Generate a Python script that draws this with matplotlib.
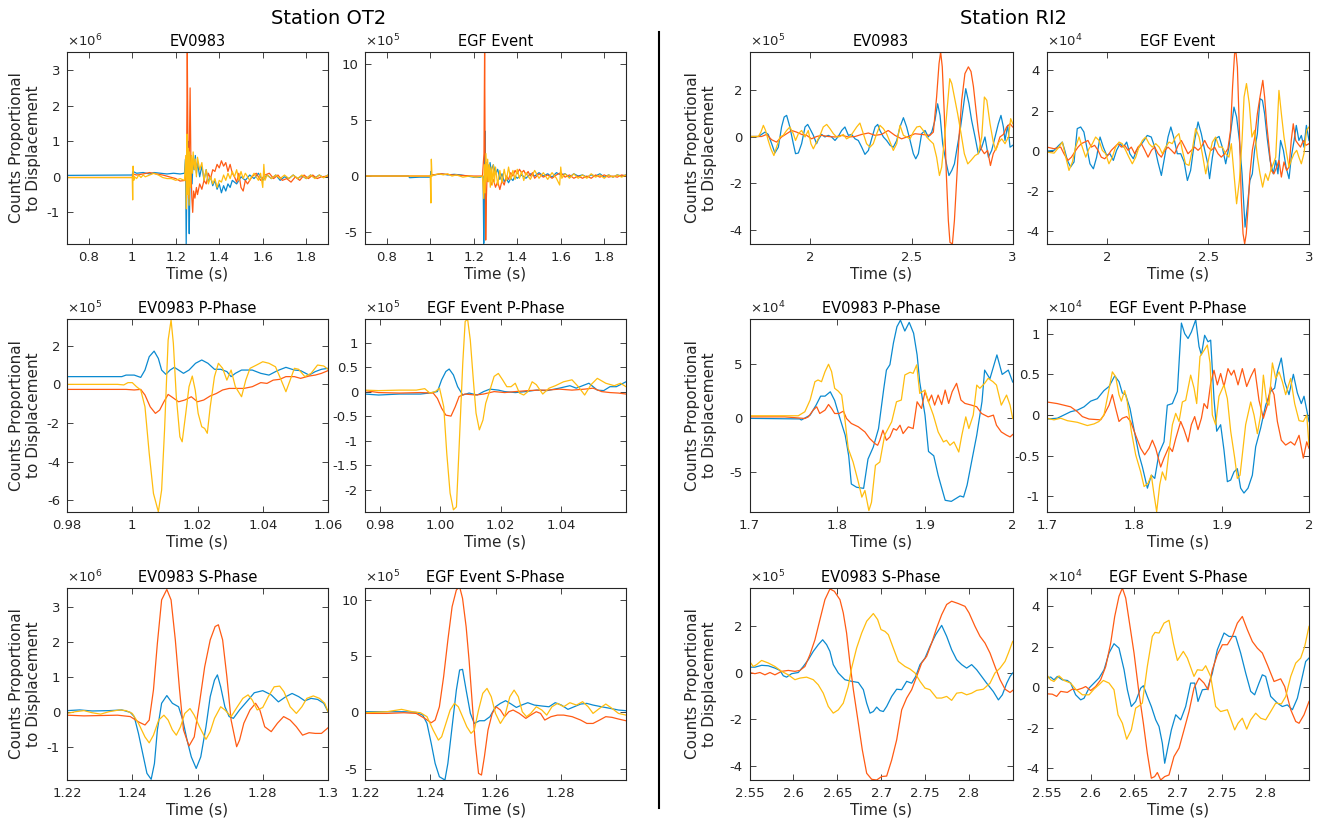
import matplotlib
matplotlib.use("Agg")
import matplotlib.pyplot as plt
from matplotlib.lines import Line2D

# ---------------------------------------------------------------- station OT2
# full records (x10^6 for EV0983, x10^5 for EGF)
ot2_ev_ch1_t = [0.70, 1.00, 1.003, 1.02, 1.05, 1.08, 1.10, 1.13, 1.16, 1.19, 1.22, 1.24, 1.245, 1.248, 1.252, 1.256,
                1.259, 1.262, 1.266, 1.27, 1.275, 1.28, 1.285, 1.29, 1.295, 1.30, 1.31, 1.32, 1.33, 1.34, 1.35, 1.36,
                1.37, 1.38, 1.39, 1.40, 1.41, 1.42, 1.43, 1.44, 1.45, 1.46, 1.48, 1.50, 1.52, 1.54, 1.56, 1.58, 1.60,
                1.62, 1.64, 1.66, 1.68, 1.70, 1.72, 1.74, 1.76, 1.78, 1.80, 1.82, 1.84, 1.86, 1.88, 1.90]
ot2_ev_ch1_v = [0.04, 0.05, 0.15, 0.10, 0.12, 0.08, 0.12, 0.10, 0.08, 0.10, 0.08, 0.10, 0.5, -1.9, 0.3, 1.0,
                -0.4, -1.6, 0.2, 0.6, -0.2, 0.5, 0.2, 0.6, 0.1, 0.4, 0.0, 0.3, -0.1, 0.2, -0.15, 0.0,
                -0.25, -0.1, -0.35, -0.2, -0.45, -0.25, -0.4, -0.2, -0.3, -0.1, -0.2, 0.0, -0.1, 0.05, -0.05, 0.1, -0.1,
                0.05, -0.05, 0.05, -0.1, 0.0, -0.05, 0.05, -0.05, 0.03, -0.05, 0.05, -0.03, 0.05, -0.02, 0.05]
ot2_ev_ch2_t = [0.70, 1.0, 1.003, 1.02, 1.05, 1.08, 1.11, 1.14, 1.17, 1.20, 1.22, 1.245, 1.250, 1.253, 1.256, 1.259,
                1.262, 1.266, 1.270, 1.274, 1.278, 1.282, 1.288, 1.295, 1.30, 1.31, 1.32, 1.33, 1.34, 1.35, 1.36, 1.37,
                1.38, 1.39, 1.40, 1.41, 1.42, 1.43, 1.44, 1.45, 1.46, 1.47, 1.48, 1.49, 1.50, 1.51, 1.52, 1.53, 1.55,
                1.57, 1.59, 1.61, 1.63, 1.65, 1.67, 1.69, 1.71, 1.73, 1.75, 1.77, 1.79, 1.81, 1.83, 1.85, 1.87, 1.90]
ot2_ev_ch2_v = [-0.02, -0.02, 0.08, 0.05, 0.08, 0.12, 0.08, 0.05, 0.0, -0.05, -0.12, -0.1, 0.5, 3.5, 1.0, -0.6,
                0.5, 2.5, 0.2, -0.6, -1.0, -0.4, -0.6, -0.3, -0.5, -0.2, -0.35, -0.1, -0.2, 0.1, -0.05, 0.2,
                0.15, 0.35, 0.25, 0.45, 0.3, 0.4, 0.15, 0.35, 0.1, 0.0, -0.15, 0.1, -0.3, -0.4, -0.1, -0.2, 0.0,
                0.1, -0.1, 0.05, 0.1, -0.05, 0.05, -0.1, -0.05, -0.15, 0.0, -0.1, 0.05, -0.05, 0.05, -0.05, 0.0, 0.02]
ot2_ev_ch3_t = [0.70, 1.0, 1.002, 1.004, 1.007, 1.01, 1.02, 1.03, 1.04, 1.05, 1.06, 1.08, 1.10, 1.12, 1.14, 1.16,
                1.18, 1.20, 1.22, 1.24, 1.246, 1.249, 1.252, 1.255, 1.258, 1.261, 1.264, 1.268, 1.272, 1.276, 1.28,
                1.285, 1.29, 1.295, 1.30, 1.31, 1.32, 1.33, 1.34, 1.35, 1.36, 1.37, 1.38, 1.39, 1.40, 1.41, 1.42,
                1.43, 1.44, 1.45, 1.46, 1.47, 1.48, 1.49, 1.50, 1.51, 1.52, 1.54, 1.56, 1.58, 1.59, 1.60, 1.605,
                1.61, 1.62, 1.64, 1.66, 1.68, 1.70, 1.72, 1.74, 1.76, 1.78, 1.80, 1.82, 1.84, 1.86, 1.88, 1.90]
ot2_ev_ch3_v = [-0.02, -0.02, -0.65, 0.3, -0.1, 0.0, -0.05, 0.05, -0.02, 0.05, 0.0, 0.05, 0.1, 0.05, -0.02, -0.05,
                -0.05, -0.1, -0.05, -0.1, 0.6, -0.9, 1.2, -0.5, 0.8, -0.8, 0.7, -0.3, 0.6, 0.1, 0.7,
                0.2, 0.5, 0.0, 0.55, 0.2, 0.4, -0.1, 0.2, -0.2, 0.0, -0.2, -0.05, -0.3, -0.1, -0.15, 0.05,
                -0.1, 0.1, -0.05, 0.15, 0.0, 0.2, -0.1, 0.15, -0.05, 0.1, -0.1, 0.1, -0.1, 0.1, -0.3, 0.35,
                -0.1, 0.05, -0.05, 0.05, -0.05, 0.05, -0.05, 0.05, -0.05, 0.05, -0.05, 0.05, -0.05, 0.05, -0.03, 0.05]

ot2_egf_ch1_t = [0.70, 0.90, 0.905, 0.95, 1.0, 1.003, 1.006, 1.02, 1.05, 1.08, 1.11, 1.14, 1.17, 1.20, 1.23, 1.243,
                 1.246, 1.249, 1.252, 1.255, 1.258, 1.262, 1.266, 1.27, 1.275, 1.28, 1.29, 1.30, 1.31, 1.32, 1.33,
                 1.34, 1.35, 1.36, 1.37, 1.38, 1.39, 1.40, 1.42, 1.44, 1.46, 1.48, 1.50, 1.52, 1.54, 1.56, 1.58,
                 1.60, 1.62, 1.64, 1.66, 1.68, 1.70, 1.72, 1.74, 1.76, 1.78, 1.80, 1.82, 1.84, 1.86, 1.88, 1.90]
ot2_egf_ch1_v = [0.0, 0.0, -0.15, -0.1, -0.1, 0.4, 0.1, 0.1, 0.2, 0.1, 0.15, 0.1, 0.0, -0.1, -0.1, 0.0,
                 -6.0, -2.0, 4.0, -0.5, 1.2, -0.2, 1.0, 0.3, 1.2, 0.5, 1.0, 0.2, 0.6, -0.3, 0.2,
                 -0.5, -0.2, -0.6, -0.2, -0.4, 0.0, -0.2, 0.1, -0.2, 0.2, 0.0, 0.3, 0.0, 0.2, -0.1, 0.3,
                 0.1, 0.2, -0.1, 0.2, 0.0, 0.1, -0.1, 0.1, 0.0, 0.2, -0.1, 0.1, -0.1, 0.1, 0.0, 0.1]
ot2_egf_ch2_t = [0.70, 1.0, 1.01, 1.05, 1.10, 1.15, 1.20, 1.24, 1.247, 1.250, 1.252, 1.255, 1.258, 1.262, 1.266,
                 1.27, 1.28, 1.29, 1.30, 1.31, 1.32, 1.33, 1.34, 1.35, 1.36, 1.37, 1.38, 1.39, 1.40, 1.41, 1.42,
                 1.43, 1.44, 1.45, 1.46, 1.47, 1.48, 1.50, 1.52, 1.54, 1.56, 1.58, 1.60, 1.62, 1.64, 1.66, 1.68,
                 1.70, 1.72, 1.74, 1.76, 1.78, 1.80, 1.82, 1.84, 1.86, 1.88, 1.90]
ot2_egf_ch2_v = [0.0, 0.0, 0.1, 0.2, 0.1, 0.05, 0.0, 0.0, 2.0, 11.5, 3.0, -5.7, -2.0, 0.5, -0.5,
                 0.2, -0.8, -0.3, -1.0, -0.5, -1.2, -0.4, -0.8, 0.0, -0.3, 0.3, 0.0, 0.5, 0.2, 0.6, 0.3,
                 0.5, 0.1, 0.4, 0.0, 0.3, -0.2, 0.2, -0.1, 0.1, -0.2, 0.1, 0.3, -0.1, 0.1, -0.2, 0.0,
                 -0.2, 0.0, -0.2, 0.1, -0.1, 0.1, -0.1, 0.0, -0.1, 0.1, 0.0]
ot2_egf_ch3_t = [0.70, 1.0, 1.003, 1.005, 1.008, 1.02, 1.04, 1.06, 1.08, 1.10, 1.12, 1.15, 1.18, 1.21, 1.24,
                 1.246, 1.249, 1.252, 1.256, 1.26, 1.264, 1.268, 1.272, 1.276, 1.28, 1.285, 1.29, 1.295, 1.30,
                 1.31, 1.32, 1.33, 1.34, 1.35, 1.36, 1.37, 1.38, 1.39, 1.40, 1.41, 1.42, 1.43, 1.44, 1.46, 1.48,
                 1.50, 1.52, 1.54, 1.56, 1.58, 1.595, 1.60, 1.605, 1.62, 1.64, 1.66, 1.68, 1.70, 1.72, 1.74, 1.76,
                 1.78, 1.80, 1.82, 1.84, 1.86, 1.88, 1.90]
ot2_egf_ch3_v = [0.0, 0.0, -2.4, 1.5, 0.0, 0.1, 0.2, 0.1, 0.2, 0.0, 0.1, -0.1, 0.0, -0.1, 0.0,
                 -2.0, 1.0, -1.5, 2.0, -0.5, 1.5, -0.5, 1.0, -1.0, 0.8, -0.8, 1.0, -0.6, 0.8,
                 -0.8, 0.5, -0.6, 0.6, -0.4, 0.8, -0.3, 0.5, -0.3, 0.6, -0.2, 0.4, -0.4, 0.3, -0.3, 0.5,
                 -0.2, 0.3, -0.3, 0.3, -0.2, -0.8, 0.8, -0.2, 0.2, -0.2, 0.2, -0.2, 0.1, -0.2, 0.2, -0.1,
                 0.1, -0.2, 0.1, -0.1, 0.1, -0.1, 0.1]

# P-phase windows (x10^5)
ot2_evp_ch1_t = [0.98, 0.9968, 0.9981, 1.0006, 1.0026, 1.0039, 1.0052, 1.0067, 1.008, 1.009, 1.0103, 1.0116,
                 1.0129, 1.0142, 1.0157, 1.0174, 1.0194, 1.0213, 1.0232, 1.0252, 1.0271, 1.029, 1.0303, 1.0316,
                 1.0335, 1.0368, 1.0394, 1.0419, 1.0445, 1.0471, 1.0497, 1.0516, 1.0542, 1.0561, 1.058, 1.06]
ot2_evp_ch1_v = [0.40, 0.40, 0.48, 0.48, 0.36, 0.74, 1.43, 1.72, 1.34, 0.74, 0.52, 0.74,
                 0.88, 0.74, 0.57, 0.74, 1.09, 1.26, 1.09, 0.78, 0.78, 0.66, 0.40, 0.57,
                 0.74, 0.74, 0.57, 0.48, 0.71, 0.88, 0.74, 0.71, 0.48, 0.66, 0.78, 0.83]
ot2_evp_ch2_t = [0.98, 0.9981, 1.0006, 1.0026, 1.0039, 1.0055, 1.0071, 1.0084, 1.0097, 1.011, 1.0123, 1.0142,
                 1.0161, 1.0181, 1.02, 1.0219, 1.0239, 1.0258, 1.0277, 1.0297, 1.0316, 1.0342, 1.0368, 1.0394,
                 1.0413, 1.0432, 1.0452, 1.0471, 1.0497, 1.0516, 1.0542, 1.0561, 1.058, 1.06]
ot2_evp_ch2_v = [-0.26, -0.26, -0.29, -0.26, -0.55, -1.16, -1.50, -1.33, -0.90, -0.52, -0.67, -0.90,
                 -0.81, -0.64, -0.90, -0.81, -0.60, -0.47, -0.29, -0.21, -0.21, -0.21, -0.12, 0.09,
                 0.05, 0.22, 0.26, 0.40, 0.40, 0.31, 0.43, 0.48, 0.57, 0.71]
ot2_evp_ch3_t = [0.98, 0.9955, 0.9974, 0.9987, 1.0, 1.0013, 1.0026, 1.0039, 1.0052, 1.0065, 1.008, 1.009,
                 1.0099, 1.011, 1.0119, 1.0126, 1.0135, 1.0146, 1.0153, 1.0164, 1.0174, 1.0184, 1.0193, 1.0202,
                 1.0213, 1.0222, 1.023, 1.0239, 1.0252, 1.0264, 1.0277, 1.029, 1.0303, 1.0316, 1.0335, 1.0348,
                 1.0361, 1.0381, 1.04, 1.0419, 1.0439, 1.0452, 1.0471, 1.0484, 1.0497, 1.051, 1.0529, 1.0548,
                 1.0568, 1.0587, 1.06]
ot2_evp_ch3_v = [0.0, 0.0, -0.03, 0.09, 0.09, -0.12, -0.29, -1.16, -3.57, -5.64, -6.59, -5.47,
                 -2.36, 2.29, 3.33, 2.12, -0.64, -2.71, -2.97, -1.50, -0.12, 0.43, -0.29, -1.50,
                 -2.19, -2.28, -2.53, -1.16, 0.40, 1.09, 0.83, 0.22, 0.74, -0.12, -0.64, 0.22,
                 0.83, 1.0, 1.17, 1.09, 0.91, 0.40, -0.38, 0.22, 0.83, 0.78, 0.40, 0.57,
                 1.0, 0.95, 0.78]

ot2_egfp_ch1_t = [0.975, 0.9795, 0.9864, 0.9934, 0.9962, 0.999, 1.0004, 1.0018, 1.0029, 1.0043, 1.0057,
                  1.0074, 1.0095, 1.0122, 1.0143, 1.0164, 1.0192, 1.0213, 1.0248, 1.0283, 1.0318, 1.0353,
                  1.0394, 1.0429, 1.045, 1.0471, 1.0492, 1.052, 1.0541, 1.0562, 1.0583, 1.0615]
ot2_egfp_ch1_v = [-0.05, -0.07, -0.05, -0.05, -0.03, 0.0, 0.24, 0.41, 0.46, 0.34, 0.10,
                  -0.07, -0.03, -0.07, 0.0, 0.05, 0.03, 0.0, -0.02, 0.0, 0.03, 0.02,
                  0.07, 0.12, 0.07, 0.12, 0.17, 0.03, 0.02, 0.10, 0.10, 0.20]
ot2_egfp_ch2_t = [0.975, 0.9795, 0.9864, 0.9934, 0.9976, 0.999, 1.0004, 1.0018, 1.0035, 1.0049, 1.0062,
                  1.0081, 1.0116, 1.0143, 1.0178, 1.0213, 1.0248, 1.029, 1.0325, 1.0353, 1.0394, 1.0436,
                  1.0478, 1.0506, 1.0534, 1.0562, 1.059, 1.0615]
ot2_egfp_ch2_v = [0.02, -0.02, -0.03, -0.02, -0.03, -0.14, -0.34, -0.48, -0.50, -0.31, -0.10,
                  -0.05, -0.07, -0.05, 0.0, -0.02, 0.0, 0.02, 0.03, 0.03, 0.05, 0.03,
                  0.05, 0.07, 0.0, -0.02, -0.03, -0.05]
ot2_egfp_ch3_t = [0.975, 0.9795, 0.9864, 0.992, 0.9948, 0.9965, 0.9983, 0.9997, 1.0011, 1.0021, 1.0032,
                  1.0043, 1.0053, 1.0062, 1.0074, 1.0082, 1.009, 1.0099, 1.0109, 1.0118, 1.0129, 1.0141,
                  1.015, 1.0164, 1.0178, 1.0192, 1.0206, 1.022, 1.0234, 1.0248, 1.0262, 1.0276, 1.029,
                  1.0304, 1.0318, 1.0339, 1.036, 1.0381, 1.0408, 1.0436, 1.0457, 1.0478, 1.0499, 1.052,
                  1.0548, 1.0576, 1.0597, 1.0615]
ot2_egfp_ch3_v = [0.03, 0.02, 0.03, 0.03, 0.06, -0.03, 0.0, 0.07, -0.31, -1.26, -2.07,
                  -2.41, -2.35, -1.12, 0.58, 1.43, 1.48, 1.05, 0.24, -0.44, -0.78, -0.58,
                  -0.24, 0.03, 0.31, 0.37, 0.24, 0.10, 0.10, 0.17, -0.03, -0.07, 0.0,
                  0.20, 0.14, -0.05, 0.07, 0.12, 0.20, 0.24, 0.10, -0.07, 0.14, 0.27,
                  0.17, 0.12, 0.17, 0.10]

# S-phase windows (x10^6 for EV0983, x10^5 for EGF)
ot2_evs_ch1_t = [1.22, 1.2239, 1.2277, 1.2329, 1.2368, 1.2394, 1.2406, 1.2419, 1.2432, 1.2445, 1.2458, 1.2468,
                 1.2477, 1.249, 1.2506, 1.2523, 1.2542, 1.2555, 1.2568, 1.2581, 1.2596, 1.261, 1.2626, 1.2639,
                 1.2652, 1.2661, 1.2671, 1.2684, 1.2697, 1.271, 1.2729, 1.2755, 1.2774, 1.28, 1.2826, 1.2848,
                 1.2871, 1.289, 1.291, 1.2929, 1.2948, 1.2968, 1.2987, 1.3]
ot2_evs_ch1_v = [0.05, 0.07, 0.04, 0.05, 0.07, 0.0, -0.12, -0.60, -1.17, -1.74, -1.91, -1.46,
                 -0.50, 0.26, 0.48, 0.26, 0.16, -0.22, -0.79, -1.27, -1.60, -1.27, -0.41, 0.45,
                 0.92, 1.07, 0.73, 0.16, -0.12, -0.17, 0.07, 0.35, 0.56, 0.62, 0.50, 0.30,
                 0.45, 0.54, 0.45, 0.33, 0.40, 0.37, 0.26, 0.02]
ot2_evs_ch2_t = [1.22, 1.2252, 1.2303, 1.2355, 1.2394, 1.2419, 1.2439, 1.2452, 1.2465, 1.2477, 1.249, 1.2506,
                 1.2519, 1.2532, 1.2545, 1.2557, 1.2574, 1.259, 1.2606, 1.2622, 1.2639, 1.2654, 1.2664, 1.2677,
                 1.269, 1.2703, 1.272, 1.2729, 1.2742, 1.2761, 1.2778, 1.2791, 1.2806, 1.2826, 1.2845, 1.2864,
                 1.2884, 1.2903, 1.2922, 1.2942, 1.2961, 1.298, 1.3]
ot2_evs_ch2_v = [-0.08, -0.10, -0.09, -0.08, -0.12, -0.27, -0.36, -0.22, 0.64, 1.97, 3.21, 3.51,
                 3.21, 2.07, 0.64, -0.50, -0.96, -0.70, 0.26, 1.30, 2.07, 2.45, 2.50, 2.07,
                 1.02, -0.22, -0.98, -0.79, -0.31, 0.07, 0.26, 0.07, -0.41, -0.55, -0.31, -0.12,
                 -0.22, -0.41, -0.65, -0.58, -0.60, -0.60, -0.44]
ot2_evs_ch3_t = [1.22, 1.2226, 1.2252, 1.2277, 1.2303, 1.2329, 1.2361, 1.2381, 1.24, 1.2419, 1.2439, 1.2452,
                 1.2465, 1.2481, 1.2497, 1.251, 1.2523, 1.2535, 1.2548, 1.2561, 1.2577, 1.259, 1.2606, 1.2626,
                 1.2639, 1.2652, 1.2671, 1.2684, 1.2703, 1.2722, 1.2739, 1.2755, 1.2768, 1.2783, 1.28, 1.2817,
                 1.2835, 1.2852, 1.2865, 1.2884, 1.2903, 1.292, 1.2935, 1.2955, 1.2974, 1.299, 1.3]
ot2_evs_ch3_v = [-0.03, 0.02, 0.05, -0.01, -0.05, 0.02, 0.07, 0.05, -0.03, -0.31, -0.70, -0.87,
                 -0.65, -0.22, -0.08, -0.22, -0.50, -0.65, -0.41, -0.03, 0.11, -0.08, -0.41, -0.77,
                 -0.55, -0.17, 0.16, 0.07, -0.12, 0.16, 0.40, 0.50, 0.35, 0.07, 0.14, 0.45,
                 0.73, 0.75, 0.59, 0.16, -0.03, 0.16, 0.40, 0.47, 0.40, 0.26, 0.02]

ot2_egfs_ch1_t = [1.22, 1.2267, 1.2319, 1.2357, 1.2377, 1.239, 1.2403, 1.2415, 1.2428, 1.2445, 1.2454, 1.2467,
                  1.248, 1.249, 1.2499, 1.251, 1.2523, 1.2535, 1.2551, 1.2566, 1.2583, 1.26, 1.2615, 1.2631,
                  1.2648, 1.2664, 1.268, 1.2699, 1.2719, 1.2744, 1.2764, 1.2783, 1.2802, 1.2822, 1.2841, 1.2861,
                  1.288, 1.2899, 1.2925, 1.2951, 1.2977, 1.3]
ot2_egfs_ch1_v = [0.06, 0.06, 0.06, 0.0, -0.24, -0.98, -2.75, -4.53, -5.71, -6.0, -4.53, -1.27,
                  1.98, 3.76, 3.82, 1.98, -0.09, -0.98, -0.74, -0.74, -0.38, 0.50, 0.80, 1.04,
                  0.74, 0.44, 0.65, 0.86, 0.65, 0.56, 0.50, 0.86, 0.65, 0.27, 0.50, 0.74,
                  0.80, 0.65, 0.50, 0.36, 0.21, 0.15]
ot2_egfs_ch2_t = [1.22, 1.2267, 1.2319, 1.2357, 1.2383, 1.2403, 1.2415, 1.2428, 1.2441, 1.2454, 1.2467, 1.248,
                  1.249, 1.2499, 1.251, 1.2519, 1.2528, 1.2538, 1.2548, 1.2557, 1.2566, 1.2577, 1.259, 1.2602,
                  1.2615, 1.2628, 1.2641, 1.2654, 1.2673, 1.2693, 1.2708, 1.2725, 1.2738, 1.2751, 1.277, 1.279,
                  1.2809, 1.2835, 1.2861, 1.288, 1.2899, 1.2919, 1.2938, 1.2957, 1.2977, 1.3]
ot2_egfs_ch2_v = [-0.09, -0.09, -0.03, -0.09, -0.53, -0.92, -0.68, 0.50, 3.17, 6.42, 9.38, 10.86,
                  11.15, 10.12, 7.60, 4.64, 1.09, -2.75, -5.41, -5.56, -3.93, -1.57, -0.09, 0.50,
                  0.21, -0.38, 0.06, 0.21, -0.09, -0.53, -0.24, 0.06, -0.09, -0.68, -0.38, -0.24,
                  -0.24, -0.38, -0.68, -0.98, -0.98, -0.68, -0.38, -0.44, -0.59, -0.74]
ot2_egfs_ch3_t = [1.22, 1.2267, 1.2312, 1.2345, 1.237, 1.239, 1.2409, 1.2425, 1.2435, 1.2448, 1.2461, 1.2474,
                  1.2486, 1.2499, 1.2512, 1.2525, 1.2535, 1.2548, 1.2561, 1.2574, 1.2587, 1.26, 1.2615, 1.2628,
                  1.2644, 1.2657, 1.267, 1.2682, 1.2695, 1.2708, 1.2725, 1.2742, 1.2757, 1.2773, 1.279, 1.2809,
                  1.2828, 1.2848, 1.2867, 1.2884, 1.2899, 1.2919, 1.2938, 1.2957, 1.2977, 1.3]
ot2_egfs_ch3_v = [-0.03, 0.06, 0.27, 0.06, -0.03, -0.38, -1.57, -2.46, -2.16, -0.98, 0.21, 0.80,
                  0.50, -0.38, -1.27, -1.86, -1.57, 0.21, 1.69, 2.13, 1.39, -0.09, -0.98, -0.38,
                  1.39, 1.98, 1.39, 0.06, -0.38, -0.09, 0.50, 0.21, -0.24, 0.50, 0.80, 0.50,
                  0.86, 0.65, 0.95, 0.50, -0.09, 0.36, 0.74, 0.36, -0.09, -0.24]

# ---------------------------------------------------------------- station RI2
# full records (x10^5 for EV0983, x10^4 for EGF)
ri2_ev_ch1_t = [1.7, 1.743, 1.759, 1.776, 1.792, 1.809, 1.825, 1.842, 1.858, 1.871, 1.883, 1.899, 1.916, 1.927,
                1.941, 1.957, 1.974, 1.987, 1.998, 2.015, 2.031, 2.039, 2.056, 2.072, 2.089, 2.105, 2.122, 2.138,
                2.155, 2.171, 2.188, 2.204, 2.221, 2.237, 2.254, 2.27, 2.287, 2.303, 2.32, 2.333, 2.344, 2.361,
                2.377, 2.394, 2.41, 2.427, 2.443, 2.46, 2.476, 2.493, 2.509, 2.521, 2.534, 2.55, 2.567, 2.583,
                2.6, 2.616, 2.629, 2.641, 2.654, 2.669, 2.685, 2.699, 2.712, 2.723, 2.74, 2.756, 2.768, 2.784,
                2.797, 2.814, 2.83, 2.847, 2.863, 2.88, 2.896, 2.913, 2.929, 2.942, 2.954, 2.962, 2.975, 2.987, 3.0]
ri2_ev_ch1_v = [0.01, 0.01, 0.10, 0.20, 0.10, -0.30, -0.70, -0.45, 0.42, 0.85, 0.92, 0.42, -0.30, -0.73,
                -0.70, -0.30, 0.42, 0.53, 0.35, 0.06, -0.30, -0.13, 0.10, -0.01, 0.06, -0.01, -0.16, 0.01,
                0.27, 0.42, 0.06, 0.10, -0.09, -0.16, -0.45, -0.76, -0.59, -0.09, 0.42, 0.53, 0.27, -0.01,
                -0.16, -0.37, -0.45, -0.16, 0.42, 0.82, 0.42, -0.16, -0.73, -0.95, -0.73, 0.13, 0.27, -0.01,
                0.20, 0.71, 1.42, 0.92, -0.30, -1.02, -1.67, -1.45, -1.17, -0.59, 0.27, 1.28, 2.07, 1.42,
                0.71, -0.01, -0.73, -0.45, -0.01, -0.88, -0.59, -0.01, 0.56, 0.92, 0.42, -0.16, 0.49, -0.45, -0.37]
ri2_ev_ch2_t = [1.7, 1.759, 1.784, 1.809, 1.833, 1.858, 1.883, 1.908, 1.932, 1.957, 1.982, 2.006, 2.031, 2.056,
                2.089, 2.122, 2.155, 2.188, 2.221, 2.254, 2.287, 2.32, 2.352, 2.385, 2.418, 2.451, 2.484, 2.517,
                2.55, 2.591, 2.608, 2.624, 2.636, 2.644, 2.652, 2.662, 2.672, 2.682, 2.69, 2.702, 2.712, 2.723,
                2.735, 2.748, 2.764, 2.781, 2.794, 2.806, 2.817, 2.83, 2.844, 2.86, 2.876, 2.89, 2.904, 2.921,
                2.937, 2.954, 2.97, 2.987, 3.0]
ri2_ev_ch2_v = [0.01, 0.01, 0.10, -0.13, -0.23, -0.01, 0.13, 0.27, 0.20, 0.10, 0.06, -0.09, 0.01, 0.06,
                0.01, -0.01, 0.06, -0.01, 0.01, 0.10, 0.16, 0.06, 0.10, 0.27, 0.06, -0.09, 0.01, 0.13,
                0.10, 0.06, 0.20, 1.71, 3.15, 3.65, 3.01, 0.99, -1.60, -3.61, -4.55, -4.62, -3.61, -1.88,
                -0.01, 1.57, 2.72, 3.01, 2.81, 2.16, 1.28, 0.27, -0.52, -0.73, -0.59, -1.24, -0.73, -0.45,
                -0.01, 0.10, 0.42, 0.56, 0.42]
ri2_ev_ch3_t = [1.7, 1.743, 1.756, 1.768, 1.779, 1.792, 1.805, 1.82, 1.833, 1.85, 1.866, 1.883, 1.899, 1.916,
                1.927, 1.941, 1.957, 1.974, 1.99, 2.003, 2.015, 2.031, 2.048, 2.064, 2.081, 2.097, 2.114, 2.13,
                2.147, 2.163, 2.179, 2.196, 2.212, 2.229, 2.245, 2.262, 2.278, 2.295, 2.311, 2.328, 2.344, 2.361,
                2.377, 2.394, 2.41, 2.427, 2.443, 2.46, 2.476, 2.493, 2.509, 2.526, 2.542, 2.558, 2.575, 2.591,
                2.608, 2.624, 2.638, 2.649, 2.662, 2.674, 2.689, 2.699, 2.712, 2.728, 2.745, 2.761, 2.778, 2.794,
                2.814, 2.83, 2.847, 2.86, 2.872, 2.888, 2.904, 2.916, 2.932, 2.946, 2.962, 2.979, 2.99, 3.0]
ri2_ev_ch3_v = [0.01, 0.01, 0.20, 0.49, 0.27, -0.16, -0.52, -0.81, -0.45, -0.01, 0.06, 0.27, 0.42, 0.13,
                -0.16, 0.13, 0.27, -0.01, 0.27, -0.30, -0.52, -0.23, 0.06, 0.42, 0.53, 0.35, 0.13, -0.01,
                0.01, 0.10, -0.09, -0.01, 0.20, 0.42, 0.59, 0.13, -0.30, -0.45, -0.30, 0.13, 0.49, 0.35,
                0.13, -0.23, -0.59, -0.30, 0.49, 0.06, -0.01, -0.09, 0.20, 0.42, 0.45, 0.27, -0.01, -0.16,
                -0.30, -0.88, -1.67, -1.31, -0.16, 0.99, 2.50, 2.29, 1.71, 0.99, 0.13, -0.73, -1.17, -1.02,
                -0.81, -0.73, -0.01, 1.71, 1.57, 0.56, -0.23, -0.59, -0.23, -0.09, -0.30, -0.01, 0.78, 0.56]

ri2_egf_ch1_t = [1.7, 1.736, 1.76, 1.777, 1.789, 1.802, 1.818, 1.835, 1.851, 1.868, 1.884, 1.898, 1.914, 1.931,
                 1.947, 1.964, 1.98, 1.997, 2.013, 2.03, 2.046, 2.063, 2.079, 2.096, 2.112, 2.129, 2.145, 2.165,
                 2.182, 2.198, 2.218, 2.235, 2.251, 2.268, 2.284, 2.301, 2.315, 2.331, 2.347, 2.364, 2.381, 2.397,
                 2.413, 2.433, 2.45, 2.466, 2.483, 2.496, 2.507, 2.521, 2.537, 2.554, 2.57, 2.587, 2.603, 2.615,
                 2.628, 2.641, 2.655, 2.668, 2.683, 2.694, 2.707, 2.719, 2.73, 2.744, 2.757, 2.769, 2.78, 2.793,
                 2.807, 2.823, 2.835, 2.846, 2.859, 2.873, 2.886, 2.901, 2.912, 2.926, 2.937, 2.95, 2.962, 2.975,
                 2.987, 3.0]
ri2_egf_ch1_v = [-0.02, 0.02, 0.27, 0.43, 0.02, -0.48, -0.81, -0.56, 1.10, 1.18, 0.93, 0.18, -0.65, -0.90,
                 -0.32, 0.68, 0.18, -0.23, -0.15, -0.48, 0.02, 0.35, 0.18, 0.43, -0.15, -0.40, 0.02, 0.27,
                 0.51, 0.76, 0.68, 0.18, -0.56, -1.23, -0.32, 0.68, 1.18, 0.60, -0.15, -0.15, -0.56, -1.48,
                 -0.98, 0.51, 1.43, 0.85, 0.02, -0.56, -1.39, -0.32, 0.60, 0.71, 0.18, -0.65, 0.18, 1.18,
                 2.17, 1.68, 0.51, -1.15, -3.80, -2.80, -1.48, -1.15, 0.02, 0.85, 2.59, 2.51, 1.84, 0.60,
                 -0.48, -1.15, -0.48, -1.15, 0.51, 0.02, -0.81, -1.39, -0.32, 0.51, 1.26, 0.51, 0.76, 0.18,
                 1.26, 0.51]
ri2_egf_ch2_t = [1.7, 1.736, 1.769, 1.785, 1.805, 1.822, 1.838, 1.855, 1.871, 1.888, 1.904, 1.921, 1.937, 1.954,
                 1.97, 1.987, 2.003, 2.02, 2.036, 2.053, 2.07, 2.086, 2.103, 2.119, 2.136, 2.152, 2.169, 2.186,
                 2.202, 2.219, 2.235, 2.252, 2.268, 2.285, 2.301, 2.318, 2.334, 2.351, 2.367, 2.384, 2.4, 2.417,
                 2.433, 2.45, 2.466, 2.483, 2.499, 2.516, 2.532, 2.549, 2.565, 2.582, 2.598, 2.611, 2.621, 2.631,
                 2.638, 2.645, 2.655, 2.664, 2.673, 2.681, 2.689, 2.698, 2.707, 2.719, 2.731, 2.744, 2.757, 2.771,
                 2.78, 2.79, 2.802, 2.813, 2.826, 2.84, 2.851, 2.863, 2.876, 2.889, 2.901, 2.912, 2.922, 2.934,
                 2.945, 2.958, 2.972, 2.985, 3.0]
ri2_egf_ch2_v = [0.18, 0.10, 0.18, -0.15, -0.48, -0.32, -0.07, 0.18, 0.35, 0.43, 0.51, 0.18, 0.27, 0.02,
                 -0.32, -0.40, -0.23, 0.02, 0.18, 0.35, 0.18, 0.27, 0.02, 0.18, -0.15, 0.18, 0.35, 0.02,
                 -0.32, 0.02, 0.18, -0.15, -0.32, 0.02, 0.18, 0.02, -0.15, 0.27, 0.51, 0.18, -0.15, 0.02,
                 0.18, 0.02, 0.18, 0.51, 0.18, 0.02, 0.18, -0.15, -0.32, -0.15, 0.10, 1.01, 3.17, 4.83,
                 4.91, 4.15, 1.01, -2.31, -4.13, -4.63, -4.13, -2.80, -1.15, 0.02, 0.68, 1.84, 2.67, 3.50,
                 2.67, 1.34, 0.18, -0.98, -1.15, -0.81, -0.48, -1.31, -0.56, -0.98, -0.81, 0.51, 1.34, 0.51,
                 0.35, 0.18, 0.51, 0.27, 0.35]
ri2_egf_ch3_t = [1.7, 1.736, 1.76, 1.777, 1.794, 1.81, 1.827, 1.843, 1.86, 1.876, 1.893, 1.909, 1.926, 1.942,
                 1.959, 1.975, 1.992, 2.008, 2.025, 2.041, 2.058, 2.074, 2.091, 2.107, 2.124, 2.141, 2.157, 2.174,
                 2.19, 2.207, 2.223, 2.24, 2.257, 2.273, 2.289, 2.306, 2.322, 2.339, 2.355, 2.372, 2.388, 2.405,
                 2.421, 2.438, 2.455, 2.471, 2.488, 2.504, 2.521, 2.537, 2.554, 2.57, 2.587, 2.603, 2.615, 2.628,
                 2.641, 2.655, 2.668, 2.678, 2.69, 2.704, 2.717, 2.73, 2.744, 2.757, 2.77, 2.784, 2.797, 2.81,
                 2.823, 2.835, 2.851, 2.863, 2.876, 2.889, 2.901, 2.912, 2.926, 2.939, 2.95, 2.962, 2.975, 2.988,
                 3.0]
ri2_egf_ch3_v = [-0.07, -0.12, 0.18, 0.43, -0.32, -0.98, -0.56, 0.18, 0.68, 0.18, -0.32, 0.10, 0.35, 0.68,
                 0.51, 0.02, -0.15, -0.65, -0.32, 0.18, 0.43, 0.35, 0.02, -0.32, -0.65, -0.32, 0.18, 0.51,
                 0.68, 0.35, 0.18, 0.35, 0.18, -0.15, 0.18, 0.43, 0.35, 0.68, 0.85, 0.02, -0.65, -0.73,
                 0.02, 1.10, 0.68, -0.15, -1.15, -0.32, 0.43, 0.68, 0.18, 0.18, -0.15, -0.32, 0.35, -1.15,
                 -2.64, -1.48, 0.51, 2.67, 3.34, 2.34, 0.68, 1.01, -0.32, -1.15, -1.81, -1.15, -1.48, -0.98,
                 -0.65, -0.32, 3.00, 1.84, 0.68, -0.15, -0.81, -0.48, -0.15, 0.02, -0.32, -0.65, -0.15, 1.01,
                 1.18]

# P-phase windows (x10^4)
ri2_evp_ch1_t = [1.700, 1.757, 1.759, 1.769, 1.776, 1.781, 1.786, 1.792, 1.797, 1.803, 1.809, 1.813, 1.816,
                 1.822, 1.830, 1.835, 1.841, 1.847, 1.853, 1.856, 1.860, 1.864, 1.868, 1.872, 1.877, 1.882,
                 1.887, 1.891, 1.894, 1.900, 1.904, 1.910, 1.915, 1.923, 1.930, 1.936, 1.940, 1.944, 1.948,
                 1.953, 1.959, 1.965, 1.968, 1.974, 1.982, 1.988, 1.995, 2.000]
ri2_evp_ch1_v = [-0.05, -0.1, -0.2, 0.25, 1.2, 2.0, 2.0, 2.4, 1.6, -0.05, -1.6, -3.5, -6.1,
                 -6.4, -6.5, -3.8, -2.7, -1.0, 2.7, 4.4, 4.9, 6.9, 8.4, 9.0, 8.0, 8.8,
                 7.8, 5.8, 3.3, 0.25, -3.1, -3.5, -5.3, -7.6, -7.7, -7.4, -7.2, -7.3, -6.2,
                 -4.1, -1.6, 1.5, 4.4, 3.6, 5.8, 4.0, 4.4, 3.3]
ri2_evp_ch2_t = [1.7, 1.74, 1.763, 1.767, 1.7725, 1.7765, 1.78, 1.786, 1.79, 1.7935, 1.797, 1.802, 1.807,
                 1.8105, 1.816, 1.824, 1.8315, 1.837, 1.843, 1.846, 1.8485, 1.852, 1.856, 1.86, 1.864,
                 1.8675, 1.8715, 1.875, 1.881, 1.8865, 1.891, 1.896, 1.9, 1.904, 1.9075, 1.911, 1.915,
                 1.919, 1.923, 1.927, 1.931, 1.936, 1.941, 1.9455, 1.953, 1.959, 1.9645, 1.972, 1.978,
                 1.9815, 1.987, 1.993, 1.997, 2.0]
ri2_evp_ch2_v = [0.09, 0.09, -0.06, 0.09, 0.71, 1.02, 0.40, 0.71, 1.23, 0.86, 0.40, 0.40, 0.62,
                 -0.06, -0.52, -0.83, -1.30, -1.91, -2.38, -2.53, -2.07, -1.14, -2.07, -1.76, -0.99,
                 -1.14, -0.68, -1.45, -0.83, -0.99, 1.48, 0.86, 2.41, 1.48, 2.10, 1.17, 2.10,
                 1.23, 2.56, 1.33, 2.41, 3.18, 1.64, 1.33, 1.17, 1.02, 0.40, 0.09, 0.25,
                 -0.68, -1.30, -1.60, -1.76, -1.54]
ri2_evp_ch3_t = [1.7, 1.7555, 1.763, 1.769, 1.7745, 1.778, 1.782, 1.786, 1.790, 1.7935, 1.797, 1.801, 1.805,
                 1.809, 1.8125, 1.818, 1.824, 1.828, 1.8315, 1.836, 1.839, 1.8435, 1.8485, 1.854, 1.862,
                 1.8675, 1.873, 1.877, 1.883, 1.8865, 1.8905, 1.894, 1.9, 1.904, 1.9095, 1.915, 1.921,
                 1.9245, 1.9285, 1.933, 1.9385, 1.942, 1.9465, 1.95, 1.955, 1.959, 1.9625, 1.968, 1.972,
                 1.9775, 1.9815, 1.987, 1.993, 1.997, 2.0]
ri2_evp_ch3_v = [0.19, 0.19, 0.56, 1.64, 3.33, 3.49, 3.33, 4.26, 4.94, 4.26, 2.72, 2.47, 2.10,
                 -0.37, -2.84, -4.07, -5.93, -7.31, -6.70, -8.55, -7.78, -4.38, -4.07, -1.60, -0.37,
                 1.48, 1.64, 3.95, 4.20, 4.10, 4.88, 2.25, 2.56, 1.48, 0.25, -1.30, -2.22,
                 -2.07, -2.53, -2.22, -3.15, -1.60, 0.09, -0.99, 0.25, 3.02, 2.72, 3.18, 3.64,
                 3.33, 3.02, 1.17, 2.10, 1.17, -0.06]

ri2_egfp_ch1_t = [1.7, 1.712, 1.7197, 1.7273, 1.735, 1.7426, 1.7502, 1.7578, 1.7654, 1.7712, 1.7777, 1.7826,
                  1.7864, 1.7902, 1.7952, 1.7998, 1.8055, 1.8094, 1.8151, 1.8197, 1.8235, 1.8284, 1.8341,
                  1.8379, 1.8437, 1.8494, 1.854, 1.8578, 1.8616, 1.8654, 1.8704, 1.8742, 1.8769, 1.8806,
                  1.8845, 1.8875, 1.8913, 1.8944, 1.8989, 1.9027, 1.9066, 1.9104, 1.9142, 1.918, 1.9218,
                  1.9256, 1.9302, 1.9352, 1.939, 1.9447, 1.9504, 1.9561, 1.9607, 1.9638, 1.9683, 1.9722,
                  1.9771, 1.9821, 1.9867, 1.9912, 1.9943, 2.0]
ri2_egfp_ch1_v = [-0.05, -0.04, 0.0, 0.04, 0.06, 0.10, 0.17, 0.20, 0.30, 0.35, 0.48, 0.41,
                  0.27, 0.25, 0.08, -0.18, -0.49, -0.64, -0.90, -0.74, -0.78, -0.47, -0.33,
                  0.12, 0.14, 0.29, 1.13, 1.0, 0.94, 1.02, 1.17, 0.84, 0.74, 0.98,
                  0.90, 0.92, 0.20, -0.20, -0.12, -0.43, -0.82, -0.80, -0.70, -0.66, -0.90,
                  -0.96, -0.90, -0.74, -0.39, -0.16, 0.12, 0.29, 0.33, 0.53, 0.70, 0.41,
                  0.25, 0.50, 0.27, 0.14, 0.23, -0.08]
ri2_egfp_ch2_t = [1.7, 1.712, 1.7197, 1.7273, 1.735, 1.7407, 1.7483, 1.7616, 1.7654, 1.7712, 1.775, 1.7788,
                  1.7826, 1.7864, 1.7914, 1.7959, 1.8017, 1.8074, 1.812, 1.817, 1.8208, 1.8246, 1.8303,
                  1.8341, 1.8398, 1.8437, 1.8475, 1.8532, 1.857, 1.8616, 1.8654, 1.8692, 1.873, 1.8769,
                  1.8799, 1.8837, 1.8875, 1.8913, 1.8951, 1.8989, 1.9027, 1.9073, 1.9111, 1.9142, 1.9188,
                  1.9237, 1.9287, 1.9333, 1.9379, 1.9428, 1.9478, 1.9523, 1.9561, 1.96, 1.9638, 1.9683,
                  1.9733, 1.979, 1.9836, 1.9886, 1.9935, 1.9974, 2.0]
ri2_egfp_ch2_v = [0.16, 0.14, 0.12, 0.10, 0.04, -0.02, -0.05, -0.06, 0.0, 0.12, 0.25, 0.08,
                  -0.08, -0.04, -0.02, -0.08, -0.25, -0.41, -0.49, -0.41, -0.31, -0.41, -0.64,
                  -0.53, -0.39, -0.45, -0.29, -0.08, -0.18, -0.33, -0.12, -0.02, -0.18, -0.04,
                  0.14, 0.08, 0.39, 0.55, 0.37, 0.51, 0.35, 0.57, 0.49, 0.55, 0.37,
                  0.57, 0.35, 0.47, 0.57, 0.18, -0.04, 0.12, 0.35, 0.25, -0.08, -0.31,
                  -0.37, -0.33, -0.37, -0.25, -0.53, -0.33, -0.41]
ri2_egfp_ch3_t = [1.7, 1.7082, 1.7159, 1.7235, 1.7349, 1.7464, 1.754, 1.7597, 1.7654, 1.77, 1.775, 1.7788,
                  1.7826, 1.7853, 1.7891, 1.7921, 1.7967, 1.8017, 1.8074, 1.8113, 1.8158, 1.8196, 1.8227,
                  1.8257, 1.8292, 1.8322, 1.836, 1.8398, 1.8437, 1.8475, 1.8513, 1.8551, 1.8589, 1.8646,
                  1.8685, 1.8715, 1.8753, 1.8791, 1.8837, 1.8868, 1.8894, 1.8932, 1.897, 1.9027, 1.9066,
                  1.9104, 1.915, 1.918, 1.9211, 1.9237, 1.9275, 1.9333, 1.9371, 1.9409, 1.9447, 1.9478,
                  1.9516, 1.9542, 1.9581, 1.9619, 1.9657, 1.9695, 1.9733, 1.979, 1.9836, 1.9886, 1.9935,
                  1.9974, 2.0]
ri2_egfp_ch3_v = [-0.04, -0.06, -0.04, -0.07, -0.09, -0.13, -0.11, -0.08, 0.0, 0.25, 0.53, 0.47,
                  0.25, 0.17, 0.30, 0.16, -0.20, -0.49, -0.70, -0.88, -0.84, -0.74, -0.98,
                  -1.19, -0.86, -0.70, -0.80, -0.45, -0.12, 0.02, -0.08, 0.16, 0.18, 0.49,
                  0.33, 0.14, 0.72, 0.78, 0.86, 0.64, 0.0, -0.12, 0.23, 0.37, 0.20,
                  -0.20, -0.53, -0.78, -0.74, -0.49, -0.12, 0.16, 0.0, -0.23, 0.0, 0.49,
                  0.16, 0.12, 0.64, 0.45, 0.53, 0.41, 0.25, 0.45, 0.14, -0.07, -0.08,
                  0.0, -0.37]

# S-phase windows (x10^5 for EV0983, x10^4 for EGF)
ri2_evs_ch1_t = [2.55, 2.5561, 2.5637, 2.5713, 2.5789, 2.5846, 2.5884, 2.5922, 2.5979, 2.6055, 2.6112, 2.6169,
                 2.6226, 2.6283, 2.6333, 2.6378, 2.6416, 2.6454, 2.6511, 2.6587, 2.6663, 2.674, 2.6797, 2.6835,
                 2.6873, 2.6911, 2.6949, 2.6987, 2.7025, 2.7063, 2.712, 2.7177, 2.7234, 2.7291, 2.7348, 2.7394,
                 2.7443, 2.75, 2.7557, 2.7622, 2.769, 2.7747, 2.7804, 2.7861, 2.7918, 2.7975, 2.8032, 2.8089,
                 2.8146, 2.8203, 2.8279, 2.8337, 2.8382, 2.8432, 2.847, 2.85]
ri2_evs_ch1_v = [0.24, 0.24, 0.32, 0.30, 0.20, 0.10, -0.13, -0.19, -0.04, 0.01, 0.27, 0.56,
                 0.92, 1.21, 1.42, 1.21, 0.92, 0.35, -0.01, -0.30, -0.37, -0.42, -0.73, -1.31,
                 -1.74, -1.67, -1.48, -1.63, -1.67, -1.45, -1.02, -0.71, -0.73, -0.37, -0.45, -0.16,
                 0.35, 0.63, 1.14, 1.64, 2.04, 1.57, 0.99, 0.56, 0.35, 0.20, 0.35, 0.13,
                 -0.16, -0.45, -0.81, -1.17, -0.95, -0.45, -0.16, -0.01]
ri2_evs_ch2_t = [2.55, 2.5561, 2.5618, 2.5675, 2.5732, 2.5789, 2.5865, 2.5941, 2.6017, 2.6074, 2.6131, 2.6188,
                 2.6245, 2.6302, 2.6359, 2.6416, 2.6466, 2.653, 2.6568, 2.6606, 2.6644, 2.6683, 2.674, 2.6785,
                 2.6835, 2.6892, 2.6949, 2.7006, 2.7063, 2.712, 2.7177, 2.7234, 2.7291, 2.7348, 2.7405, 2.7462,
                 2.7519, 2.7576, 2.7633, 2.769, 2.7747, 2.7804, 2.788, 2.7956, 2.8002, 2.807, 2.8127, 2.8184,
                 2.8241, 2.8298, 2.8356, 2.8413, 2.847, 2.85]
ri2_evs_ch2_v = [0.01, -0.04, 0.01, -0.09, 0.01, -0.09, 0.06, 0.10, 0.06, 0.10, 0.27, 0.78,
                 1.42, 2.29, 3.15, 3.61, 3.51, 3.15, 2.58, 1.71, 0.42, -0.73, -2.17, -3.32,
                 -4.33, -4.59, -4.62, -4.47, -4.45, -3.76, -2.89, -1.60, -1.09, -0.73, -0.16, 0.42,
                 0.71, 1.28, 1.93, 2.50, 2.94, 3.08, 2.98, 2.86, 2.58, 2.00, 1.57, 1.28,
                 0.85, 0.27, -0.30, -0.71, -0.85, -0.76]
ri2_evs_ch3_t = [2.55, 2.5542, 2.558, 2.5637, 2.5713, 2.5789, 2.5865, 2.5941, 2.6017, 2.6074, 2.615, 2.6226,
                 2.6283, 2.634, 2.6397, 2.6454, 2.6511, 2.6568, 2.6625, 2.6663, 2.672, 2.6778, 2.6835, 2.6911,
                 2.696, 2.6998, 2.7044, 2.7082, 2.7139, 2.7196, 2.7272, 2.7329, 2.7386, 2.7443, 2.75, 2.7557,
                 2.7633, 2.769, 2.7747, 2.7804, 2.7861, 2.7918, 2.7975, 2.8032, 2.8089, 2.8165, 2.8241, 2.8298,
                 2.8356, 2.8413, 2.8451, 2.85]
ri2_evs_ch3_v = [0.49, 0.27, 0.35, 0.53, 0.42, 0.27, 0.06, -0.09, -0.30, -0.23, -0.19, -0.30,
                 -0.52, -0.88, -1.45, -1.74, -1.60, -1.31, -0.59, 0.20, 1.06, 1.71, 2.22, 2.55,
                 2.29, 1.86, 1.78, 1.64, 1.06, 0.49, 0.27, 0.16, -0.01, -0.37, -0.66, -0.73,
                 -1.09, -1.09, -1.02, -1.19, -0.88, -0.85, -0.95, -0.88, -0.76, -0.71, -0.45, -0.01,
                 0.20, 0.49, 0.85, 1.35]

ri2_egfs_ch1_t = [2.55, 2.5544, 2.5582, 2.5621, 2.5678, 2.5735, 2.5773, 2.583, 2.5888, 2.5926, 2.5983, 2.604,
                  2.6097, 2.6155, 2.6212, 2.6269, 2.6326, 2.6384, 2.6422, 2.6467, 2.6517, 2.6574, 2.6605, 2.665,
                  2.6696, 2.6746, 2.6784, 2.6822, 2.6849, 2.6887, 2.6925, 2.6975, 2.7032, 2.7089, 2.7146, 2.7192,
                  2.723, 2.728, 2.7337, 2.7394, 2.7451, 2.7528, 2.7585, 2.7661, 2.7718, 2.7776, 2.7833, 2.7878,
                  2.7928, 2.7966, 2.8004, 2.8062, 2.8138, 2.8195, 2.8252, 2.831, 2.8367, 2.8424, 2.8462, 2.85]
ri2_egfs_ch1_v = [0.45, 0.50, 0.36, 0.53, 0.36, 0.33, 0.20, -0.38, -0.63, -0.55, -0.05, 0.20,
                  0.45, 0.86, 1.69, 2.15, 1.93, 0.86, -0.13, -0.96, -0.71, -0.05, 0.07, -0.46,
                  -0.96, -1.62, -1.95, -2.78, -3.77, -2.94, -2.12, -1.37, -1.62, -0.96, 0.20, 0.20,
                  -0.71, -0.13, -0.10, 0.69, 1.85, 2.68, 2.51, 2.51, 1.69, 0.69, -0.21, -0.38,
                  0.20, 0.61, 0.53, -0.46, -0.79, -0.96, -0.88, -1.12, -0.55, 0.53, 1.27, 1.44]
ri2_egfs_ch2_t = [2.55, 2.5563, 2.5613, 2.5659, 2.5735, 2.5792, 2.5849, 2.5907, 2.5945, 2.6002, 2.6059, 2.6116,
                  2.6174, 2.6231, 2.6277, 2.6326, 2.6365, 2.6403, 2.6452, 2.6498, 2.6555, 2.6605, 2.665, 2.6696,
                  2.6734, 2.6765, 2.6803, 2.6849, 2.6898, 2.6955, 2.7013, 2.707, 2.7127, 2.7184, 2.7242, 2.7299,
                  2.7345, 2.7394, 2.7451, 2.7509, 2.7566, 2.7623, 2.768, 2.7737, 2.7795, 2.7852, 2.7909, 2.7966,
                  2.8023, 2.81, 2.8176, 2.8222, 2.8291, 2.8348, 2.8386, 2.8443, 2.85]
ri2_egfs_ch2_v = [-0.33, -0.35, -0.46, -0.21, -0.26, -0.10, -0.13, -0.05, 0.03, -0.17, 0.03, 0.36,
                  1.02, 2.18, 3.50, 4.50, 4.91, 4.41, 3.01, 1.69, -0.30, -1.79, -3.27, -4.51,
                  -4.43, -4.23, -4.60, -4.43, -4.35, -3.44, -3.02, -2.12, -1.21, -0.05, 0.45, 0.20,
                  -0.13, 0.86, 1.60, 2.10, 2.10, 2.51, 3.17, 3.50, 2.84, 2.26, 1.93, 1.69,
                  1.11, 0.28, 0.41, 0.03, -1.12, -1.70, -1.79, -1.37, -0.71]
ri2_egfs_ch3_t = [2.55, 2.5544, 2.5582, 2.564, 2.5697, 2.5773, 2.583, 2.5907, 2.5983, 2.604, 2.6097, 2.6147,
                  2.6212, 2.6269, 2.6315, 2.6365, 2.6414, 2.6467, 2.6517, 2.6555, 2.6593, 2.665, 2.6707, 2.6738,
                  2.6784, 2.6841, 2.6898, 2.6948, 2.6994, 2.7062, 2.7108, 2.7184, 2.7223, 2.728, 2.7318, 2.7375,
                  2.7432, 2.7489, 2.7566, 2.765, 2.7688, 2.7737, 2.7787, 2.7833, 2.789, 2.7947, 2.8004, 2.8062,
                  2.8119, 2.8184, 2.8234, 2.8291, 2.8348, 2.8405, 2.8451, 2.85]
ri2_egfs_ch3_v = [0.61, 0.36, 0.28, 0.56, 0.33, 0.20, -0.10, -0.38, -0.38, -0.10, 0.12, 0.33,
                  0.20, -0.13, -1.37, -1.79, -2.58, -2.12, -1.04, -0.93, -0.79, 1.02, 2.51, 2.71,
                  2.68, 3.17, 3.31, 2.18, 1.32, 1.77, 1.44, 0.53, 0.86, 0.83, 1.06, 0.53,
                  -0.96, -1.21, -1.12, -2.12, -1.79, -1.54, -2.08, -1.62, -1.29, -1.54, -1.62, -1.21,
                  -0.79, -0.83, -0.46, 0.53, 1.19, 1.44, 2.02, 3.01]

# ---------------------------------------------------------------- styling
CH_COLORS = ['#0B8AD0', '#FF5B14', '#FFBD0F']
INK = '#262626'
ylabel_text = 'Counts Proportional\nto Displacement'

plt.rcParams['font.family'] = ['DejaVu Sans']
plt.rcParams['mathtext.fontset'] = 'dejavusans'

W, H = 1319, 822
fig = plt.figure(figsize=(W / 100, H / 100), dpi=100)


def px_axes(x0, y0, x1, y1):
    return fig.add_axes([x0 / W, 1 - y1 / H, (x1 - x0) / W, (y1 - y0) / H])


def draw_panel(ax, traces, title, xlim, xticks, xlabels, ylim, yticks, ylabels, power, ylab_x=None):
    for (t, v), c in zip(traces, CH_COLORS):
        n = min(len(t), len(v))
        ax.plot(t[:n], v[:n], color=c, lw=0.9, solid_joinstyle='round')
    ax.set_xlim(*xlim)
    ax.set_ylim(*ylim)
    ax.set_xticks(xticks)
    ax.set_xticklabels(xlabels)
    ax.set_yticks(yticks)
    ax.set_yticklabels(ylabels)
    ax.tick_params(direction='in', top=True, right=True, length=4, width=0.6,
                   labelsize=9.5, colors=INK, pad=5)
    for s in ax.spines.values():
        s.set_color(INK)
        s.set_linewidth(0.8)
    ax.set_title(title, fontsize=10.5, color='black', pad=4)
    ax.set_xlabel('Time (s)', fontsize=11, color=INK, labelpad=2)
    ax.text(0.0, 1.012, r'$\times10^{%d}$' % power, transform=ax.transAxes,
            ha='left', va='bottom', fontsize=9.5, color=INK)
    if ylab_x is not None:
        ax.set_ylabel(ylabel_text, fontsize=11, color=INK, linespacing=1.15)
        ax.yaxis.set_label_coords(ylab_x, 0.5)


rows = [(52, 244), (319, 512), (588, 780)]
cols = [(67, 328), (365, 626), (749.6, 1012.7), (1046.8, 1309)]

full_ot2 = dict(xlim=(0.7, 1.9), xticks=[0.8, 1.0, 1.2, 1.4, 1.6, 1.8],
                xlabels=['0.8', '1', '1.2', '1.4', '1.6', '1.8'])
full_ri2 = dict(xlim=(1.7, 3.0), xticks=[2.0, 2.5, 3.0], xlabels=['2', '2.5', '3'])
p_ri2 = dict(xlim=(1.7, 2.0), xticks=[1.7, 1.8, 1.9, 2.0], xlabels=['1.7', '1.8', '1.9', '2'])
s_ri2 = dict(xlim=(2.55, 2.85), xticks=[2.55, 2.6, 2.65, 2.7, 2.75, 2.8],
             xlabels=['2.55', '2.6', '2.65', '2.7', '2.75', '2.8'])

panels = [
    # row, col, traces, title, x settings, ylim, yticks, ylabels, power
    (0, 0, [(ot2_ev_ch1_t, ot2_ev_ch1_v), (ot2_ev_ch2_t, ot2_ev_ch2_v), (ot2_ev_ch3_t, ot2_ev_ch3_v)],
     'EV0983', full_ot2, (-1.89, 3.51), [-1, 0, 1, 2, 3], ['-1', '0', '1', '2', '3'], 6),
    (0, 1, [(ot2_egf_ch1_t, ot2_egf_ch1_v), (ot2_egf_ch2_t, ot2_egf_ch2_v), (ot2_egf_ch3_t, ot2_egf_ch3_v)],
     'EGF Event', full_ot2, (-6.05, 11.04), [-5, 0, 5, 10], ['-5', '0', '5', '10'], 5),
    (1, 0, [(ot2_evp_ch1_t, ot2_evp_ch1_v), (ot2_evp_ch2_t, ot2_evp_ch2_v), (ot2_evp_ch3_t, ot2_evp_ch3_v)],
     'EV0983 P-Phase', dict(xlim=(0.98, 1.06), xticks=[0.98, 1.0, 1.02, 1.04, 1.06],
                            xlabels=['0.98', '1', '1.02', '1.04', '1.06']),
     (-6.6, 3.38), [-6, -4, -2, 0, 2], ['-6', '-4', '-2', '0', '2'], 5),
    (1, 1, [(ot2_egfp_ch1_t, ot2_egfp_ch1_v), (ot2_egfp_ch2_t, ot2_egfp_ch2_v), (ot2_egfp_ch3_t, ot2_egfp_ch3_v)],
     'EGF Event P-Phase', dict(xlim=(0.975, 1.0615), xticks=[0.98, 1.0, 1.02, 1.04],
                               xlabels=['0.98', '1.00', '1.02', '1.04']),
     (-2.455, 1.48), [-2, -1.5, -1, -0.5, 0, 0.5, 1], ['-2', '-1.5', '-1', '-0.5', '0', '0.5', '1'], 5),
    (2, 0, [(ot2_evs_ch1_t, ot2_evs_ch1_v), (ot2_evs_ch2_t, ot2_evs_ch2_v), (ot2_evs_ch3_t, ot2_evs_ch3_v)],
     'EV0983 S-Phase', dict(xlim=(1.22, 1.30), xticks=[1.22, 1.24, 1.26, 1.28, 1.30],
                            xlabels=['1.22', '1.24', '1.26', '1.28', '1.3']),
     (-1.93, 3.55), [-1, 0, 1, 2, 3], ['-1', '0', '1', '2', '3'], 6),
    (2, 1, [(ot2_egfs_ch1_t, ot2_egfs_ch1_v), (ot2_egfs_ch2_t, ot2_egfs_ch2_v), (ot2_egfs_ch3_t, ot2_egfs_ch3_v)],
     'EGF Event S-Phase', dict(xlim=(1.22, 1.30), xticks=[1.22, 1.24, 1.26, 1.28],
                               xlabels=['1.22', '1.24', '1.26', '1.28']),
     (-6.0, 11.04), [-5, 0, 5, 10], ['-5', '0', '5', '10'], 5),
    (0, 2, [(ri2_ev_ch1_t, ri2_ev_ch1_v), (ri2_ev_ch2_t, ri2_ev_ch2_v), (ri2_ev_ch3_t, ri2_ev_ch3_v)],
     'EV0983', full_ri2, (-4.62, 3.65), [-4, -2, 0, 2], ['-4', '-2', '0', '2'], 5),
    (0, 3, [(ri2_egf_ch1_t, ri2_egf_ch1_v), (ri2_egf_ch2_t, ri2_egf_ch2_v), (ri2_egf_ch3_t, ri2_egf_ch3_v)],
     'EGF Event', full_ri2, (-4.64, 4.91), [-4, -2, 0, 2, 4], ['-4', '-2', '0', '2', '4'], 4),
    (1, 2, [(ri2_evp_ch1_t, ri2_evp_ch1_v), (ri2_evp_ch2_t, ri2_evp_ch2_v), (ri2_evp_ch3_t, ri2_evp_ch3_v)],
     'EV0983 P-Phase', p_ri2, (-8.68, 9.11), [-5, 0, 5], ['-5', '0', '5'], 4),
    (1, 3, [(ri2_egfp_ch1_t, ri2_egfp_ch1_v), (ri2_egfp_ch2_t, ri2_egfp_ch2_v), (ri2_egfp_ch3_t, ri2_egfp_ch3_v)],
     'EGF Event P-Phase', p_ri2, (-1.193, 1.18), [-1, -0.5, 0, 0.5, 1], ['-1', '-0.5', '0', '0.5', '1'], 4),
    (2, 2, [(ri2_evs_ch1_t, ri2_evs_ch1_v), (ri2_evs_ch2_t, ri2_evs_ch2_v), (ri2_evs_ch3_t, ri2_evs_ch3_v)],
     'EV0983 S-Phase', s_ri2, (-4.62, 3.65), [-4, -2, 0, 2], ['-4', '-2', '0', '2'], 5),
    (2, 3, [(ri2_egfs_ch1_t, ri2_egfs_ch1_v), (ri2_egfs_ch2_t, ri2_egfs_ch2_v), (ri2_egfs_ch3_t, ri2_egfs_ch3_v)],
     'EGF Event S-Phase', s_ri2, (-4.6, 4.91), [-4, -2, 0, 2, 4], ['-4', '-2', '0', '2', '4'], 4),
]

for r, c, traces, title, xs, ylim, yticks, ylabels, power in panels:
    y0, y1 = rows[r]
    x0, x1 = cols[c]
    ax = px_axes(x0, y0, x1, y1)
    ylab_x = None
    if c == 0:
        ylab_x = -0.10
    elif c == 2:
        ylab_x = -0.124
    draw_panel(ax, traces, title, xs['xlim'], xs['xticks'], xs['xlabels'],
               ylim, yticks, ylabels, power, ylab_x)

# station headings and the divider between them
fig.text(329 / W, 1 - 19 / H, 'Station OT2', ha='center', va='center', fontsize=14)
fig.text(1013 / W, 1 - 19 / H, 'Station RI2', ha='center', va='center', fontsize=14)
fig.add_artist(Line2D([659 / W, 659 / W], [1 - 32 / H, 1 - 808 / H], color='black', lw=1.5))

fig.savefig('out.png', dpi=100, facecolor='white')
